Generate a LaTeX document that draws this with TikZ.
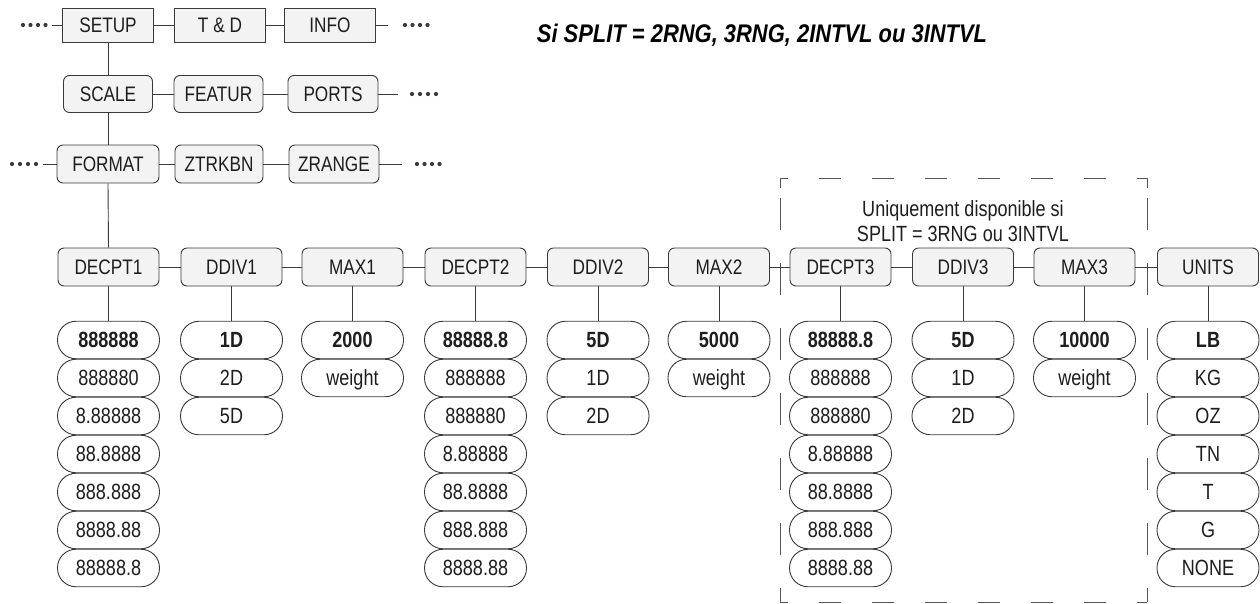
\documentclass[tikz,border=0pt]{standalone}
\usepackage{fontspec}
\setmainfont{Liberation Sans}[FakeStretch=0.82]
\newfontfamily\titlefont{Liberation Sans}[FakeStretch=0.86]
\definecolor{linecol}{HTML}{3A3A3A}
\definecolor{boxfill}{HTML}{F3F3F3}
\definecolor{txtcol}{HTML}{1E1E1E}
\definecolor{dashcol}{HTML}{555555}
\newcommand{\valstack}[3]{%
  \foreach \v [count=\i] in {#3} {
    \node[pill] (#1-\i) at (#2, {340+38*(\i-1)}) {\ifnum\i=1\bfseries\fi\v};
  }
  \draw[conn] (#1.south) -- (#1-1.north);
}
\begin{document}
\begin{tikzpicture}[x=1pt,y=-1pt,
  conn/.style={draw=linecol, line width=0.9pt},
  menusq/.style={draw=linecol, line width=0.9pt, fill=boxfill, minimum width=91pt,
    minimum height=34pt, inner sep=0pt, text height=15pt, text depth=0pt,
    font=\fontsize{21}{24}\selectfont, text=txtcol},
  menurd/.style={menusq, rounded corners=6pt, minimum height=37pt},
  param/.style={menurd, minimum width=101pt, minimum height=38pt},
  pill/.style={draw=linecol, line width=0.9pt, fill=white, rounded corners=18.5pt,
    minimum width=102pt, minimum height=37.5pt, inner sep=0pt, text height=15.5pt,
    text depth=0pt, font=\fontsize{22}{24}\selectfont, text=txtcol},
  dashline/.style={dashcol, line width=0.9pt}]
\path[use as bounding box] (0,0) rectangle (1260,603);

% title
\node[font=\titlefont\bfseries\itshape\fontsize{25.5}{28}\selectfont, text=black] (title) at (762,35) {Si SPLIT = 2RNG, 3RNG, 2INTVL ou 3INTVL};

% row 1
\node[menusq] (setup) at (108,25) {SETUP};
\node[menusq] (td) at (220,25) {T \& D};
\node[menusq] (info) at (330,25) {INFO};
\coordinate (l1) at (52,25);
\coordinate (r1) at (388,25);
\draw[conn] (l1) -- (setup.west) (setup.east) -- (td.west) (td.east) -- (info.west) (info.east) -- (r1);
\foreach \x in {23,30.5,38,45.5} \fill[linecol] (\x,25) circle (2.1pt);
\foreach \x in {405,412.5,420,427.5} \fill[linecol] (\x,25) circle (2.1pt);

% row 2
\node[menurd, minimum width=89pt] (scale) at (108,94) {SCALE};
\node[menurd, minimum width=89pt] (featur) at (218.5,94) {FEATUR};
\node[menurd, minimum width=90pt] (ports) at (333,94) {PORTS};
\coordinate (r2) at (398,94);
\draw[conn] (setup.south) -- (scale.north);
\draw[conn] (scale.east) -- (featur.west) (featur.east) -- (ports.west) (ports.east) -- (r2);
\foreach \x in {412,420,428,436} \fill[linecol] (\x,94) circle (2.1pt);

% row 3
\node[menurd, minimum width=102pt, minimum height=38pt] (format) at (108,164) {FORMAT};
\node[menurd, minimum width=88pt, minimum height=38pt] (ztrkbn) at (219,164) {ZTRKBN};
\node[menurd, minimum width=90pt, minimum height=38pt] (zrange) at (334,164) {ZRANGE};
\coordinate (l3) at (43,164);
\coordinate (r3) at (402,164);
\draw[conn] (scale.south) -- (format.north);
\draw[conn] (l3) -- (format.west) (format.east) -- (ztrkbn.west) (ztrkbn.east) -- (zrange.west) (zrange.east) -- (r3);
\foreach \x in {12,20,28,36} \fill[linecol] (\x,164) circle (2.1pt);
\foreach \x in {417,424.5,432,439.5} \fill[linecol] (\x,164) circle (2.1pt);

% dashed region
\draw[dashline, dash pattern=on 22pt off 31pt, dash phase=14pt] (780,178) -- (1147,178);
\draw[dashline, dash pattern=on 22pt off 31pt, dash phase=14pt] (780,602) -- (1147,602);
\draw[dashline, dash pattern=on 32pt off 33pt, dash phase=18pt] (780,602) -- (780,178);
\draw[dashline, dash pattern=on 32pt off 33pt, dash phase=18pt] (1147,602) -- (1147,178);
\draw[dashline] (780,188) -- (780,178) -- (788,178);
\draw[dashline] (1147,188) -- (1147,178) -- (1139,178);
\node[font=\fontsize{22}{25}\selectfont, text=txtcol, align=center] (note) at (963,221) {Uniquement disponible si\\SPLIT = 3RNG ou 3INTVL};

% row 4 parameters
\node[param] (dp1) at (108.5,267) {DECPT1};
\node[param] (dv1) at (231.5,267) {DDIV1};
\node[param] (mx1) at (352.5,267) {MAX1};
\node[param] (dp2) at (475.5,267) {DECPT2};
\node[param] (dv2) at (598,267) {DDIV2};
\node[param] (mx2) at (719,267) {MAX2};
\node[param] (dp3) at (840.5,267) {DECPT3};
\node[param] (dv3) at (963,267) {DDIV3};
\node[param] (mx3) at (1084.5,267) {MAX3};
\node[param] (units) at (1208,267) {UNITS};
\draw[conn] (format.south) -- (dp1.north);
\draw[conn] (dp1) -- (dv1) (dv1) -- (mx1) (mx1) -- (dp2) (dp2) -- (dv2) (dv2) -- (mx2)
  (mx2) -- (dp3) (dp3) -- (dv3) (dv3) -- (mx3) (mx3) -- (units);

% values
\valstack{dp1}{108.5}{888888,888880,8.88888,88.8888,888.888,8888.88,88888.8}
\valstack{dv1}{231.5}{1D,2D,5D}
\valstack{mx1}{352.5}{2000,weight}
\valstack{dp2}{475.5}{88888.8,888888,888880,8.88888,88.8888,888.888,8888.88}
\valstack{dv2}{598}{5D,1D,2D}
\valstack{mx2}{719}{5000,weight}
\valstack{dp3}{840.5}{88888.8,888888,888880,8.88888,88.8888,888.888,8888.88}
\valstack{dv3}{963}{5D,1D,2D}
\valstack{mx3}{1084.5}{10000,weight}
\valstack{units}{1208}{LB,KG,OZ,TN,T,G,NONE}
\end{tikzpicture}
\end{document}
